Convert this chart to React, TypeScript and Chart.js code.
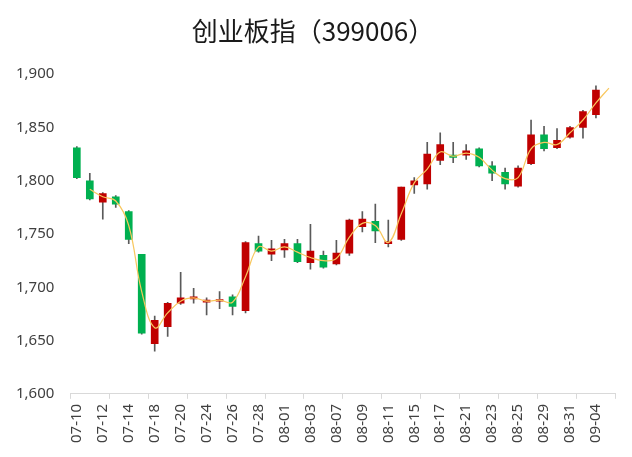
import { useEffect, useRef } from "react"
import { Chart, registerables } from "chart.js"

Chart.register(...registerables)

// trading days, one label shown every two
const dates = [
  "07-10", "07-11", "07-12", "07-13", "07-14", "07-17", "07-18", "07-19", "07-20", "07-21",
  "07-24", "07-25", "07-26", "07-27", "07-28", "07-31", "08-01", "08-02", "08-03", "08-04",
  "08-07", "08-08", "08-09", "08-10", "08-11", "08-14", "08-15", "08-16", "08-17", "08-18",
  "08-21", "08-22", "08-23", "08-24", "08-25", "08-28", "08-29", "08-30", "08-31", "09-01",
  "09-04", "09-05",
]

const opens = [
  1831, 1800, 1780, 1785, 1771, 1731, 1647, 1663, 1685, 1689,
  1686, 1687, 1691, 1678, 1741, 1731, 1735, 1741, 1723, 1730,
  1722, 1732, 1757, 1762, 1741, 1745, 1796, 1797, 1819, 1824,
  1824, 1830, 1814, 1808, 1795, 1816, 1843, 1831, 1841, 1850,
  1862, null,
]
const highs = [
  1832, 1807, 1789, 1786, 1772, 1731, 1673, 1686, 1714, 1699,
  1690, 1696, 1693, 1743, 1748, 1744, 1745, 1745, 1759, 1734,
  1744, 1764, 1771, 1778, 1763, 1794, 1803, 1836, 1845, 1836,
  1834, 1831, 1818, 1812, 1814, 1857, 1851, 1849, 1851, 1866,
  1889, null,
]
const lows = [
  1802, 1782, 1764, 1775, 1741, 1656, 1640, 1654, 1684, 1685,
  1674, 1680, 1674, 1676, 1733, 1725, 1728, 1723, 1717, 1718,
  1721, 1730, 1752, 1742, 1738, 1744, 1788, 1792, 1815, 1817,
  1820, 1813, 1800, 1792, 1794, 1815, 1828, 1830, 1840, 1840,
  1859, null,
]
const closes = [
  1803, 1783, 1788, 1778, 1745, 1657, 1669, 1685, 1690, 1691,
  1688, 1688, 1682, 1742, 1734, 1736, 1741, 1724, 1734, 1719,
  1732, 1763, 1764, 1753, 1743, 1794, 1800, 1825, 1834, 1822,
  1828, 1814, 1807, 1797, 1812, 1843, 1830, 1838, 1850, 1865,
  1885, null,
]

// smoothed yellow line
const trend = [
  null, 1792, 1785, 1781, 1758, 1696, 1662, 1676, 1687, 1690,
  1687, 1688, 1686, 1710, 1738, 1734, 1738, 1733, 1728, 1725,
  1727, 1747, 1760, 1758, 1742, 1769, 1798, 1811, 1827, 1823,
  1826, 1822, 1810, 1802, 1803, 1830, 1836, 1834, 1845, 1857,
  1873, 1887,
]

const RED = "#C00000"
const GREEN = "#00B050"
const AXIS = "#D9D9D9"
const TEXT = "#404040"

export default function App() {
  const chartRef = useRef<HTMLCanvasElement>(null)
  const chartInstance = useRef<Chart | null>(null)

  useEffect(() => {
    if (!chartRef.current) return
    if (chartInstance.current) chartInstance.current.destroy()

    const up = opens.map((o, i) => o !== null && (closes[i] as number) >= o)
    const bodyColors = up.map((u) => (u ? RED : GREEN))

    chartInstance.current = new Chart(chartRef.current, {
      type: "bar",
      data: {
        labels: dates,
        datasets: [
          {
            type: "line",
            label: "trend",
            data: trend,
            borderColor: "#F8C75E",
            borderWidth: 1.2,
            pointRadius: 0,
            tension: 0.4,
            order: 0,
          },
          {
            label: "body",
            data: opens.map((o, i) => (o === null ? null : [o, closes[i]])),
            backgroundColor: bodyColors,
            barThickness: 7,
            minBarLength: 1.5,
            grouped: false,
            order: 1,
          },
          {
            label: "wick",
            data: lows.map((l, i) => (l === null ? null : [l, highs[i]])),
            backgroundColor: "#5A5A5A",
            barThickness: 1,
            grouped: false,
            order: 2,
          },
        ] as any,
      },
      options: {
        animation: false,
        responsive: true,
        maintainAspectRatio: false,
        layout: { padding: { left: 0, right: 6, top: 16, bottom: 9 } },
        plugins: {
          legend: { display: false },
          tooltip: { enabled: false },
          title: {
            display: true,
            text: "创业板指（399006）",
            color: "#1A1A1A",
            font: { family: "'Noto Sans CJK SC', sans-serif", size: 26, weight: "normal" },
            padding: { top: 0, bottom: 27 },
          },
        },
        scales: {
          x: {
            grid: {
              drawOnChartArea: false,
              tickLength: 5,
              tickColor: (ctx: any) =>
                ctx.index === undefined || ctx.index % 3 === 0 ? AXIS : "rgba(0,0,0,0)",
            },
            border: { display: true, color: AXIS, width: 1 },
            ticks: {
              autoSkip: false,
              minRotation: 90,
              maxRotation: 90,
              padding: 5,
              color: TEXT,
              font: { family: "'Noto Sans', sans-serif", size: 15 },
              callback: (_v: any, i: number) => (i % 2 === 0 ? dates[i] : ""),
            },
          },
          y: {
            min: 1600,
            max: 1900,
            grid: { display: false, drawTicks: false },
            border: { display: false },
            ticks: {
              stepSize: 50,
              padding: 16,
              color: TEXT,
              font: { family: "'Noto Sans', sans-serif", size: 15 },
              callback: (v: any) => Number(v).toLocaleString("en-US"),
            },
          },
        },
      },
    })

    return () => {
      if (chartInstance.current) {
        chartInstance.current.destroy()
        chartInstance.current = null
      }
    }
  }, [])

  return (
    <div style={{ position: "fixed", left: 0, top: 0, width: 632, height: 457, background: "#fff" }}>
      <canvas ref={chartRef} />
    </div>
  )
}
